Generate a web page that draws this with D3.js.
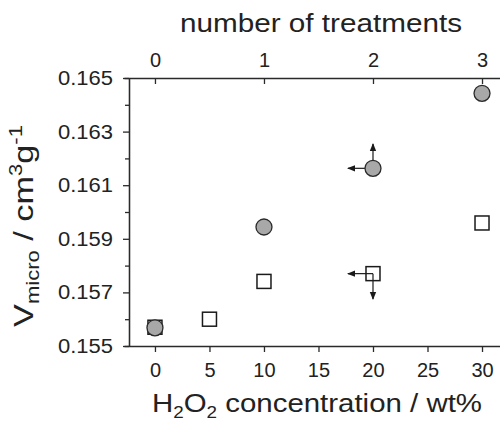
<!DOCTYPE html>
<html><head><meta charset="utf-8">
<script src="https://cdn.jsdelivr.net/npm/d3@7/dist/d3.min.js"></script>
<style>body{margin:0;background:#fff}text{font-family:"Liberation Sans",Arial,sans-serif;fill:#222}</style>
</head><body><svg id="c" width="500" height="424"></svg>
<script>
// data
const circleConc = [0, 10, 20, 30];
const circleVal = [0.15568, 0.15944, 0.16163, 0.16443];
const squareConc = [0, 5, 10, 20, 30];
const squareVal = [0.15570, 0.15600, 0.15741, 0.15770, 0.15959];
const xTicks = [0, 5, 10, 15, 20, 25, 30];
const topTicks = [0, 1, 2, 3];
const yTicks = [0.155, 0.157, 0.159, 0.161, 0.163, 0.165];
const yMinor = [0.156, 0.158, 0.160, 0.162, 0.164];
// arrows: [x, y] start and end
const arrowFrom = [[20, 0.16163], [20, 0.16163], [20, 0.15770], [20, 0.15770]];
const arrowTo = [[17.7, 0.16163], [20, 0.16254], [17.7, 0.15770], [20, 0.15675]];

const svg = d3.select("#c");
const x = d3.scaleLinear().domain([-2.84, 31.65]).range([124, 500]);
const xt = d3.scaleLinear().domain([-0.284, 3.165]).range([124, 500]);
const y = d3.scaleLinear().domain([0.155, 0.165]).range([346, 78]);
const ax = "#2a2a2a";

const gB = svg.append("g").attr("transform", "translate(0,346)")
  .call(d3.axisBottom(x).tickValues(xTicks).tickSizeInner(6).tickSizeOuter(0).tickPadding(11).tickFormat(d3.format("d")));
const gT = svg.append("g").attr("transform", "translate(0,78)")
  .call(d3.axisTop(xt).tickValues(topTicks).tickSizeInner(-6).tickSizeOuter(0).tickPadding(11).tickFormat(d3.format("d")));
const gL = svg.append("g").attr("transform", "translate(129,0)")
  .call(d3.axisLeft(y).tickValues(yTicks).tickSizeInner(6).tickSizeOuter(0).tickPadding(10).tickFormat(d3.format(".3f")));
const gM = svg.append("g").attr("transform", "translate(129,0)")
  .call(d3.axisLeft(y).tickValues(yMinor).tickSizeInner(4).tickSizeOuter(0).tickFormat(""));
[gB, gT, gL, gM].forEach(g => {
  g.selectAll("path").attr("stroke", ax).attr("stroke-width", 1.3);
  g.selectAll("line").attr("stroke", ax).attr("stroke-width", 1.3);
  g.selectAll("text").attr("font-size", 20).attr("fill", "#222")
    .attr("font-family", '"Liberation Sans",Arial,sans-serif');
});
gL.selectAll("text").attr("textLength", 55).attr("lengthAdjust", "spacingAndGlyphs");

// arrows
const defs = svg.append("defs");
defs.append("marker").attr("id", "ah").attr("viewBox", "0 0 10 10").attr("refX", 9).attr("refY", 5)
  .attr("markerWidth", 7).attr("markerHeight", 7).attr("orient", "auto")
  .append("path").attr("d", "M0,1 L10,5 L0,9 Z").attr("fill", "#1a1a1a");
svg.append("g").selectAll("line").data(arrowFrom).join("line")
  .attr("x1", d => x(d[0])).attr("y1", d => y(d[1]))
  .attr("x2", (d, i) => x(arrowTo[i][0])).attr("y2", (d, i) => y(arrowTo[i][1]))
  .attr("stroke", "#1a1a1a").attr("stroke-width", 1.2).attr("marker-end", "url(#ah)");

// squares
const s = 14;
svg.append("g").selectAll("rect").data(squareConc).join("rect")
  .attr("x", (d) => x(d) - s / 2).attr("y", (d, i) => y(squareVal[i]) - s / 2)
  .attr("width", s).attr("height", s).attr("fill", "none")
  .attr("stroke", "#1a1a1a").attr("stroke-width", 1.5);
// circles
svg.append("g").selectAll("circle").data(circleConc).join("circle")
  .attr("cx", d => x(d)).attr("cy", (d, i) => y(circleVal[i])).attr("r", 8)
  .attr("fill", "#a8a8a8").attr("stroke", "#2a2a2a").attr("stroke-width", 1.3);

// titles
svg.append("text").attr("x", 321).attr("y", 32).attr("text-anchor", "middle")
  .attr("font-size", 26).attr("textLength", 282).attr("lengthAdjust", "spacingAndGlyphs")
  .text("number of treatments");

const bt = svg.append("text").attr("x", 152).attr("y", 412).attr("font-size", 25)
  .attr("textLength", 330).attr("lengthAdjust", "spacingAndGlyphs");
bt.append("tspan").text("H");
bt.append("tspan").attr("font-size", 16).attr("dy", 6).text("2");
bt.append("tspan").attr("dy", -6).text("O");
bt.append("tspan").attr("font-size", 16).attr("dy", 6).text("2");
bt.append("tspan").attr("dy", -6).text(" concentration / wt%");

const yl = svg.append("text").attr("transform", "translate(33,226) rotate(-90)")
  .attr("text-anchor", "middle").attr("font-size", 28)
  .attr("textLength", 202).attr("lengthAdjust", "spacingAndGlyphs");
yl.append("tspan").text("V");
yl.append("tspan").attr("font-size", 18).attr("dy", 6).text("micro");
yl.append("tspan").attr("dy", -6).text(" / cm");
yl.append("tspan").attr("font-size", 18).attr("dy", -11).text("3");
yl.append("tspan").attr("dy", 11).text("g");
yl.append("tspan").attr("font-size", 18).attr("dy", -11).text("-1");
</script></body></html>
